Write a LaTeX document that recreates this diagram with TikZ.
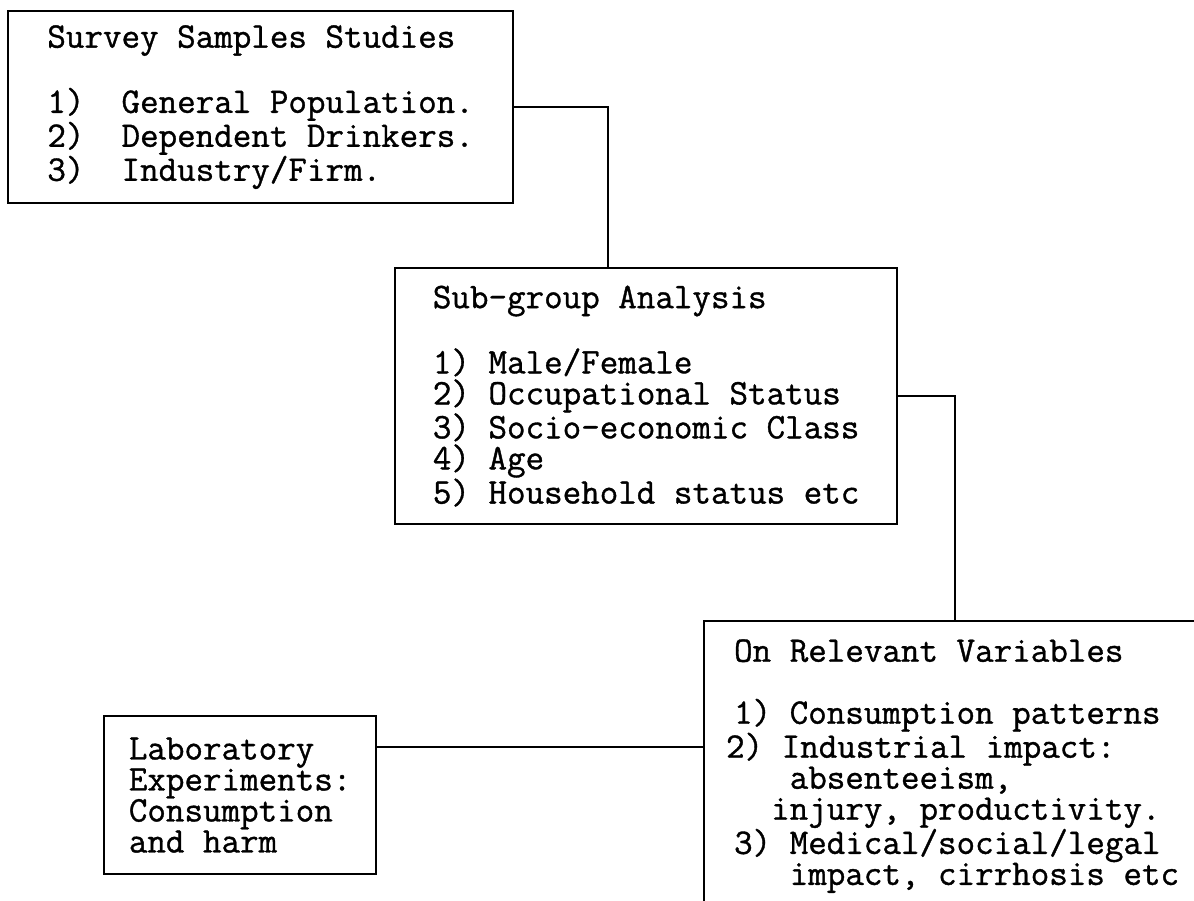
\documentclass[tikz,border=0pt]{standalone}
\usepackage{fontspec}
\usepackage{tikz}
\usetikzlibrary{positioning}

\newfontfamily\scanfont{Latin Modern Mono}[FakeBold=1]
\newcommand{\boxfont}{\scanfont\fontsize{36}{31}\selectfont}
\tikzset{
  panel/.style={draw, line width=2.2pt, anchor=north west, align=left, font=\boxfont},
  link/.style={line width=2pt},
}

\begin{document}
\begin{tikzpicture}[x=1pt,y=-1pt]
    % Page size of the scan
    \useasboundingbox (0,0) rectangle (1194,901);

    % The four boxes
    \node[panel, minimum width=505pt, minimum height=192pt] (survey) at (7,10)
      {Survey Samples Studies\\[31pt]1)~~General Population.\\2)~~Dependent Drinkers.\\3)~~Industry/Firm.};
    \node[panel, minimum width=502pt, minimum height=256pt] (subgroup) at (394,267)
      {Sub-group Analysis\\[31pt]1) Male/Female\\2) Occupational Status\\3) Socio-economic Class\\4) Age\\5) Household status etc};
    \node[panel, inner xsep=30pt, minimum height=290pt] (vars) at (703,620)
      {On Relevant Variables\\[31pt]1) Consumption patterns\\\hspace*{-8pt}2) Industrial impact:\\\phantom{xxx}absenteeism,\\\phantom{xx}injury, productivity.\\3) Medical/social/legal\\\phantom{xxx}impact, cirrhosis etc};
    \node[panel, minimum width=272pt, minimum height=158pt] (lab) at (103,715)
      {Laboratory\\Experiments:\\Consumption\\and harm};

    % Connectors
    \draw[link] (survey.east) -| ([xshift=214pt]subgroup.north west);
    \draw[link] (subgroup.east) -| ([xshift=252pt]vars.north west);
    \coordinate[yshift=-32pt] (labport) at (lab.north east);
    \draw[link] (labport) -- (labport -| vars.west);
\end{tikzpicture}
\end{document}
